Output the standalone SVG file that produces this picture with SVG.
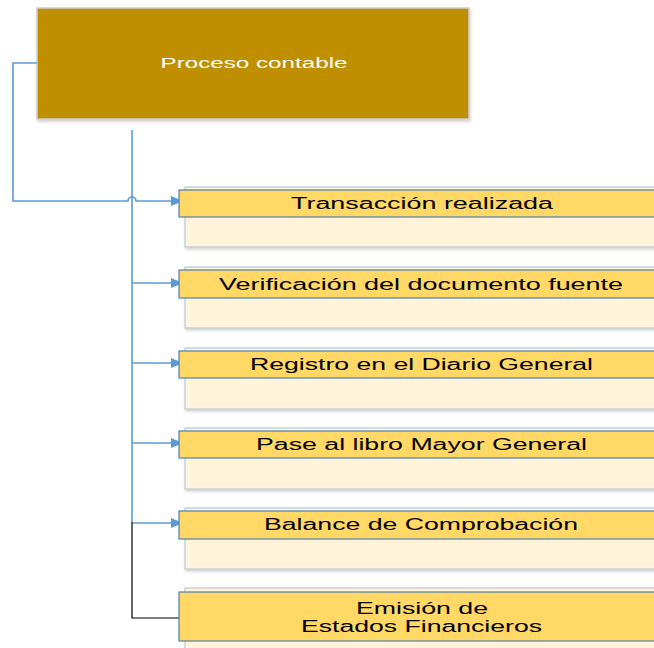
<svg xmlns="http://www.w3.org/2000/svg" width="654" height="648" viewBox="0 0 654 648">
<defs>
<style>
.back{fill:#FFF4DA;stroke:#B7C9D9;stroke-width:1.2}
.bar{fill:#FFD865;stroke:#4F7FB0;stroke-width:1.2}
.lbl{font-family:"Liberation Sans",Arial,sans-serif;font-size:16px;fill:#000;text-anchor:middle}
.conn{fill:none;stroke:#5B9BD5;stroke-width:1.6}
.blk{fill:none;stroke:#000;stroke-width:1.2}
</style>
<marker id="arr" markerWidth="12" markerHeight="10" refX="11" refY="5" orient="auto" markerUnits="userSpaceOnUse">
<path d="M0,0 L12,5 L0,10 Z" fill="#5B9BD5"/>
</marker>
<filter id="sh" x="-5%" y="-10%" width="115%" height="130%">
<feDropShadow dx="1" dy="2" stdDeviation="1.5" flood-color="#000" flood-opacity="0.18"/>
</filter>
</defs>
<rect width="654" height="648" fill="#fff"/>

<g id="proceso">
<rect x="37" y="8" width="432" height="111" fill="#BF8F00" stroke="#CFCFCF" stroke-width="1.5" filter="url(#sh)"/>
<text x="254" y="68" font-family="Liberation Sans,Arial,sans-serif" font-size="15.5" fill="#fff" text-anchor="middle" textLength="187" lengthAdjust="spacingAndGlyphs">Proceso contable</text>
</g>

<g id="connectors">
<path class="conn" d="M37,63 H13 V201 H128 A4,4 0 0 1 136,201 H182" marker-end="url(#arr)"/>
<path class="conn" d="M132,130 V522"/>
<path class="conn" d="M132,283 H182" marker-end="url(#arr)"/>
<path class="conn" d="M132,363 H182" marker-end="url(#arr)"/>
<path class="conn" d="M132,443 H182" marker-end="url(#arr)"/>
<path class="conn" d="M132,523 H182" marker-end="url(#arr)"/>
<path class="blk" d="M132,522 V618 H187"/>
</g>

<g id="n1">
<rect class="back" x="185" y="187" width="480" height="60" filter="url(#sh)"/>
<rect class="bar" x="179" y="190" width="486" height="27"/>
<text class="lbl" x="422" y="209" textLength="262" lengthAdjust="spacingAndGlyphs">Transacción realizada</text>
</g>
<g id="n2">
<rect class="back" x="185" y="267" width="480" height="61" filter="url(#sh)"/>
<rect class="bar" x="179" y="270" width="486" height="28"/>
<text class="lbl" x="421" y="290" textLength="404" lengthAdjust="spacingAndGlyphs">Verificación del documento fuente</text>
</g>
<g id="n3">
<rect class="back" x="185" y="348" width="480" height="61" filter="url(#sh)"/>
<rect class="bar" x="179" y="351" width="486" height="27"/>
<text class="lbl" x="421.5" y="370" textLength="343" lengthAdjust="spacingAndGlyphs">Registro en el Diario General</text>
</g>
<g id="n4">
<rect class="back" x="185" y="428" width="480" height="61" filter="url(#sh)"/>
<rect class="bar" x="179" y="431" width="486" height="27"/>
<text class="lbl" x="421.5" y="450" textLength="331" lengthAdjust="spacingAndGlyphs">Pase al libro Mayor General</text>
</g>
<g id="n5">
<rect class="back" x="185" y="508" width="480" height="61" filter="url(#sh)"/>
<rect class="bar" x="179" y="511" width="486" height="28"/>
<text class="lbl" x="421" y="530" textLength="314" lengthAdjust="spacingAndGlyphs">Balance de Comprobación</text>
</g>
<g id="n6">
<rect class="back" x="185" y="588" width="480" height="70" filter="url(#sh)"/>
<rect class="bar" x="179" y="592" width="486" height="49"/>
<text class="lbl" x="422" y="614" textLength="132" lengthAdjust="spacingAndGlyphs">Emisión de</text>
<text class="lbl" x="421.5" y="632" textLength="241" lengthAdjust="spacingAndGlyphs">Estados Financieros</text>
</g>
</svg>
